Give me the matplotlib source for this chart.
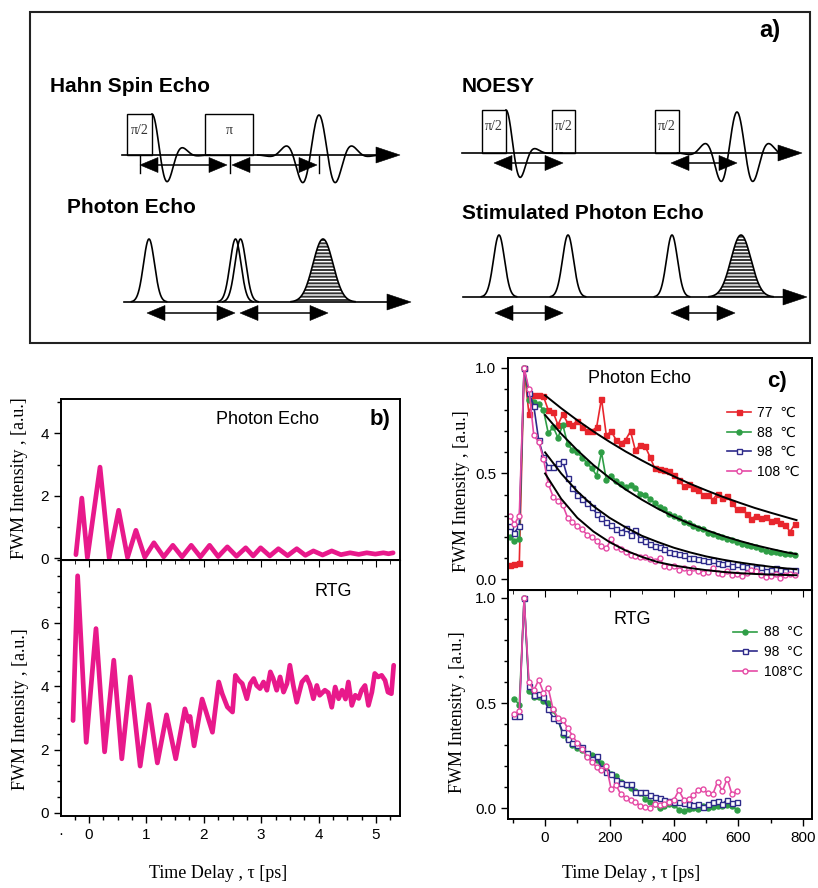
import numpy as np
import matplotlib
matplotlib.use('Agg')
import matplotlib.pyplot as plt
from matplotlib.patches import Rectangle, Polygon
from matplotlib.ticker import MultipleLocator, FormatStrFormatter

W, H = 818, 888
SANS = ['Liberation Sans', 'DejaVu Sans']
SERIF = ['Liberation Serif', 'DejaVu Serif']
plt.rcParams['font.family'] = SANS
plt.rcParams['hatch.linewidth'] = 1.0

# ---------------- panel b data (time delay in ps) ----------------
pe_t = [-0.23, -0.127, -0.03, 0.19, 0.35, 0.515, 0.67, 0.816, 0.97, 1.13,
        1.30, 1.46, 1.62, 1.78, 1.94, 2.10, 2.25, 2.41, 2.57, 2.73,
        2.86, 2.99, 3.15, 3.30, 3.46, 3.62, 3.77, 3.91, 4.07, 4.23,
        4.39, 4.55, 4.70, 4.84, 4.99, 5.13, 5.22, 5.30]
pe_val = [0.12, 1.93, 0.02, 2.92, 0.02, 1.54, 0.03, 0.90, 0.04, 0.50,
          0.05, 0.42, 0.05, 0.42, 0.05, 0.42, 0.06, 0.37, 0.07, 0.34,
          0.08, 0.34, 0.08, 0.31, 0.09, 0.31, 0.10, 0.24, 0.11, 0.24,
          0.12, 0.18, 0.13, 0.18, 0.14, 0.18, 0.15, 0.18]

rtg_t = [-0.28, -0.20, -0.05, 0.12, 0.27, 0.43, 0.57, 0.72, 0.89, 1.04,
         1.19, 1.35, 1.51, 1.67, 1.73, 1.76, 1.83, 1.97, 2.15, 2.26,
         2.32, 2.41, 2.50, 2.55, 2.61, 2.67, 2.75, 2.81, 2.87, 2.92,
         2.98, 3.04, 3.10, 3.16, 3.21, 3.27, 3.33, 3.39, 3.45, 3.50,
         3.56, 3.62, 3.71, 3.79, 3.85, 3.91, 3.97, 4.02, 4.11, 4.17,
         4.23, 4.29, 4.35, 4.41, 4.47, 4.52, 4.58, 4.64, 4.70, 4.75,
         4.81, 4.87, 4.93, 4.98, 5.04, 5.10, 5.16, 5.21, 5.27, 5.31]
rtg_val = [2.92, 7.50, 2.23, 5.83, 1.93, 4.83, 1.71, 4.30, 1.48, 3.43,
           1.58, 3.10, 1.71, 3.29, 2.90, 3.05, 2.12, 3.60, 2.55, 4.14,
           3.77, 3.35, 3.19, 4.35, 4.19, 4.09, 3.61, 4.09, 4.25, 4.03,
           3.93, 4.14, 3.88, 4.46, 4.25, 3.88, 4.30, 3.82, 4.09, 4.67,
           4.03, 3.50, 4.14, 4.30, 4.05, 3.61, 4.03, 3.72, 3.88, 3.80,
           3.34, 3.98, 3.61, 3.88, 3.60, 4.14, 3.40, 3.72, 3.62, 3.88,
           4.03, 3.40, 3.82, 4.41, 4.30, 4.35, 4.19, 3.82, 3.77, 4.67]

# ---------------- panel c data (ps) ----------------
pe_delay = np.arange(-110, 776, 15)
pe_77 = [0.065, 0.07, 0.075, 1.0, 0.78, 0.87, 0.87, 0.865, 0.80, 0.79,
         0.73, 0.78, 0.74, 0.73, 0.75, 0.72, 0.70, 0.70, 0.72, 0.855,
         0.68, 0.70, 0.66, 0.645, 0.66, 0.70, 0.61, 0.635, 0.63, 0.58,
         0.525, 0.52, 0.515, 0.51, 0.495, 0.47, 0.44, 0.45, 0.43, 0.42,
         0.40, 0.40, 0.375, 0.405, 0.385, 0.395, 0.36, 0.33, 0.33, 0.31,
         0.285, 0.30, 0.29, 0.295, 0.275, 0.28, 0.265, 0.255, 0.225, 0.26]
pe_88 = [0.20, 0.18, 0.19, 1.0, 0.85, 0.84, 0.83, 0.80, 0.69, 0.72,
         0.67, 0.73, 0.64, 0.61, 0.60, 0.575, 0.55, 0.525, 0.49, 0.60,
         0.47, 0.49, 0.465, 0.45, 0.435, 0.445, 0.43, 0.405, 0.40, 0.38,
         0.36, 0.34, 0.33, 0.31, 0.30, 0.29, 0.27, 0.265, 0.25, 0.24,
         0.235, 0.22, 0.215, 0.205, 0.20, 0.19, 0.185, 0.175, 0.165, 0.16,
         0.155, 0.15, 0.14, 0.135, 0.13, 0.13, 0.125, 0.12, 0.12, 0.115]
pe_98 = [0.25, 0.22, 0.25, 1.0, 0.88, 0.82, 0.66, 0.58, 0.53, 0.53,
         0.55, 0.56, 0.48, 0.43, 0.40, 0.38, 0.36, 0.34, 0.31, 0.29,
         0.27, 0.255, 0.235, 0.225, 0.24, 0.21, 0.23, 0.19, 0.18, 0.165,
         0.155, 0.15, 0.14, 0.13, 0.125, 0.12, 0.115, 0.10, 0.10, 0.095,
         0.09, 0.085, 0.09, 0.075, 0.07, 0.075, 0.06, 0.07, 0.06, 0.055,
         0.06, 0.05, 0.055, 0.04, 0.045, 0.05, 0.045, 0.04, 0.045, 0.045]
pe_108 = [0.30, 0.26, 0.30, 1.0, 0.90, 0.68, 0.65, 0.57, 0.45, 0.39,
          0.37, 0.35, 0.29, 0.27, 0.25, 0.235, 0.21, 0.20, 0.18, 0.155,
          0.145, 0.19, 0.15, 0.14, 0.13, 0.115, 0.11, 0.105, 0.105, 0.095,
          0.085, 0.10, 0.06, 0.055, 0.06, 0.045, 0.05, 0.035, 0.05, 0.04,
          0.03, 0.035, 0.05, 0.03, 0.025, 0.04, 0.02, 0.025, 0.015, 0.03,
          0.045, 0.04, 0.02, 0.01, 0.015, 0.025, 0.005, 0.02, 0.025, 0.02]

fit_t = [0, 50, 100, 150, 200, 250, 300, 350, 400, 450, 500, 550, 600, 650, 700, 750, 780]
fit_77 = [0.870, 0.809, 0.752, 0.699, 0.650, 0.604, 0.562, 0.522, 0.486, 0.451,
          0.420, 0.390, 0.363, 0.337, 0.314, 0.292, 0.279]
fit_88 = [0.777, 0.688, 0.610, 0.540, 0.479, 0.424, 0.376, 0.333, 0.295, 0.261,
          0.232, 0.205, 0.182, 0.161, 0.143, 0.126, 0.118]
fit_98 = [0.60, 0.50, 0.415, 0.345, 0.29, 0.245, 0.205, 0.175, 0.148, 0.126,
          0.107, 0.092, 0.079, 0.068, 0.058, 0.050, 0.046]
fit_108 = [0.50, 0.38, 0.29, 0.225, 0.175, 0.135, 0.105, 0.08, 0.064, 0.052,
           0.042, 0.034, 0.028, 0.024, 0.021, 0.019, 0.018]

rtg_delay = np.arange(-95, 596, 15)
rtg_88 = [0.52, 0.49, 1.0, 0.555, 0.53, 0.53, 0.51, 0.50, 0.465, 0.42,
          0.35, 0.33, 0.30, 0.285, 0.275, 0.25, 0.255, 0.23, 0.215, 0.18,
          0.16, 0.155, 0.125, 0.11, 0.095, 0.08, 0.07, 0.045, 0.03, 0.02,
          0.0, 0.01, 0.02, 0.015, -0.008, -0.015, -0.005, 0.0, -0.005, 0.01,
          0.0, 0.005, 0.008, 0.012, 0.015, 0.01, -0.008]
rtg_98 = [0.44, 0.44, 1.0, 0.58, 0.54, 0.545, 0.53, 0.47, 0.43, 0.42,
          0.36, 0.33, 0.31, 0.30, 0.29, 0.26, 0.235, 0.25, 0.19, 0.17,
          0.16, 0.135, 0.12, 0.115, 0.115, 0.075, 0.078, 0.075, 0.06, 0.055,
          0.047, 0.04, 0.035, 0.03, 0.03, 0.025, 0.02, 0.015, 0.02, 0.005,
          0.02, 0.03, 0.035, 0.02, 0.04, 0.025, 0.03]
rtg_108 = [0.45, 0.46, 1.0, 0.60, 0.56, 0.61, 0.55, 0.57, 0.47, 0.43,
           0.42, 0.38, 0.345, 0.31, 0.28, 0.245, 0.22, 0.195, 0.18, 0.20,
           0.09, 0.11, 0.065, 0.05, 0.04, 0.03, 0.01, 0.005, 0.0, 0.02,
           0.015, 0.02, 0.03, 0.04, 0.085, 0.04, 0.045, 0.06, 0.085, 0.09,
           0.07, 0.065, 0.125, 0.08, 0.14, 0.065, 0.08]

PINK_B = '#e8198b'
RED, GREEN, BLUE, PINK = '#e8262d', '#2f9e46', '#2e2a8a', '#e54aa5'

fig = plt.figure(figsize=(W / 100, H / 100), dpi=100)


def px_axes(left, top, right, bottom):
    return fig.add_axes([left / W, 1 - bottom / H, (right - left) / W, (bottom - top) / H])


def ftext(x, y, s, **kw):
    fig.text(x / W, 1 - y / H, s, **kw)


# ---------------- panel a: pulse sequences (drawn in pixel space) ----------------
ov = fig.add_axes([0, 0, 1, 1])
ov.set_xlim(0, W)
ov.set_ylim(H, 0)
ov.axis('off')
ov.add_patch(Rectangle((30, 12), 780, 331, fill=False, lw=1.5, ec='#222222'))


def head(x_tip, y, d, length=18, half=7.5):
    xb = x_tip - d * length
    ov.add_patch(Polygon([[x_tip, y], [xb, y - half], [xb, y + half]], closed=True, fc='k', ec='k', lw=0.4))


def double_arrow(x1, x2, y):
    ov.plot([x1 + 5, x2 - 5], [y, y], 'k', lw=1.1)
    head(x1, y, -1)
    head(x2, y, 1)


def time_axis(x1, x2, y):
    ov.plot([x1, x2 - 10], [y, y], 'k', lw=1.2)
    head(x2, y, 1, length=24, half=8)


def rf_box(x1, x2, top, base, label):
    ov.add_patch(Rectangle((x1, top), x2 - x1, base - top, fill=False, lw=1.0, ec='k'))
    ov.text((x1 + x2) / 2, top + 16, label, ha='center', va='center', family=SERIF, size=10, color='#333333')


def fid(x0, base, amp, period, width):
    xs = np.linspace(x0, x0 + 1.75 * period, 150)
    u = xs - x0
    ov.plot(xs, base - amp * np.cos(2 * np.pi * u / period) * np.exp(-(u / width) ** 2), 'k', lw=1.2)


def spin_echo(xc, base, amp, period, width):
    xs = np.linspace(xc - 1.75 * period, xc + 1.75 * period, 250)
    u = xs - xc
    ov.plot(xs, base - amp * np.cos(2 * np.pi * u / period) * np.exp(-(u / width) ** 2), 'k', lw=1.2)


def light_pulse(xc, base, amp, sig, filled=False):
    xs = np.linspace(xc - 3.2 * sig, xc + 3.2 * sig, 150)
    ys = base - amp * np.exp(-0.5 * ((xs - xc) / sig) ** 2)
    if filled:
        ov.fill_between(xs, ys, base, facecolor='#333333', edgecolor='white', hatch='-----', lw=0)
    ov.plot(xs, ys, 'k', lw=1.2)


title_kw = dict(fontsize=15, fontweight='bold', ha='left', va='center')
ov.text(50, 86, 'Hahn Spin Echo', **title_kw)
ov.text(67, 207, 'Photon Echo', **title_kw)
ov.text(462, 86, 'NOESY', **title_kw)
ov.text(462, 213, 'Stimulated Photon Echo', **title_kw)
ov.text(770, 31, 'a)', fontsize=17, fontweight='bold', ha='center', va='center')

# Hahn spin echo
time_axis(122, 400, 155)
rf_box(127, 152, 114, 155, 'π/2')
rf_box(205, 253, 114, 155, 'π')
fid(152, 155, 41, 33, 24)
spin_echo(319, 155, 40, 35, 27.6)
for xm in [140, 230, 319]:
    ov.plot([xm, xm], [156, 173], 'k', lw=1.0)
double_arrow(140, 227, 165)
double_arrow(232, 317, 165)

# Photon echo
time_axis(124, 411, 302)
light_pulse(149, 302, 63, 5.5)
light_pulse(235.5, 302, 63, 5.5)
light_pulse(240.5, 302, 63, 5.5)
light_pulse(323, 302, 63, 10, filled=True)
double_arrow(147, 235, 313)
double_arrow(240, 328, 313)

# NOESY
time_axis(462, 802, 153)
rf_box(482, 506, 110, 153, 'π/2')
rf_box(552, 575, 110, 153, 'π/2')
rf_box(655, 679, 110, 153, 'π/2')
fid(506, 153, 43, 32, 20)
spin_echo(737, 153, 41, 34, 27)
double_arrow(494, 563, 163)
double_arrow(671, 737, 163)

# Stimulated photon echo
time_axis(463, 807, 297)
for xc in [499, 568, 672]:
    light_pulse(xc, 297, 62, 5.5)
light_pulse(741, 297, 62, 10, filled=True)
double_arrow(495, 563, 313)
double_arrow(671, 735, 313)

# ---------------- panel b ----------------
ax_bt = px_axes(61, 399, 400, 560)
ax_bb = px_axes(61, 560, 400, 816)

ax_bt.plot(pe_t, pe_val, color=PINK_B, lw=3.4, solid_joinstyle='round', solid_capstyle='round')
ax_bt.set_xlim(-0.49, 5.42)
ax_bt.set_ylim(-0.05, 5.1)
ax_bt.set_yticks([0, 2, 4])
ax_bt.yaxis.set_minor_locator(MultipleLocator(1))
ax_bt.tick_params(axis='x', which='both', bottom=False, labelbottom=False)

ax_bb.plot(rtg_t, rtg_val, color=PINK_B, lw=3.4, solid_joinstyle='round', solid_capstyle='round')
ax_bb.set_xlim(-0.49, 5.42)
ax_bb.set_ylim(-0.1, 8.0)
ax_bb.set_yticks([0, 2, 4, 6])
ax_bb.yaxis.set_minor_locator(MultipleLocator(0.5))
ax_bb.set_xticks([0, 1, 2, 3, 4, 5])
ax_bb.xaxis.set_minor_locator(MultipleLocator(0.25))
sec = ax_bb.secondary_xaxis('top')
sec.set_xticks([0, 1, 2, 3, 4, 5])
sec.xaxis.set_minor_locator(MultipleLocator(0.25))
sec.tick_params(which='both', direction='in', labeltop=False)
sec.tick_params(which='major', length=5)
sec.tick_params(which='minor', length=3)

for ax in (ax_bt, ax_bb):
    ax.tick_params(which='both', direction='out', labelsize=11, width=1.0)
    ax.tick_params(which='major', length=5)
    ax.tick_params(which='minor', length=3)
    for s in ax.spines.values():
        s.set_linewidth(1.4)

ftext(267, 419, 'Photon Echo', ha='center', va='center', fontsize=13)
ftext(380, 419, 'b)', ha='center', va='center', fontsize=16, fontweight='bold')
ftext(333, 592, 'RTG', ha='center', va='center', fontsize=13)
ftext(61, 834, '·', ha='center', va='center', fontsize=11)

# ---------------- panel c ----------------
ax_ct = px_axes(508, 358, 812, 590)
ax_cb = px_axes(508, 590, 812, 819)

mk = dict(lw=1.2, ms=3.6, mew=1.0)
ax_ct.plot(pe_delay, pe_77, color=RED, marker='s', label='77  \u2103', **mk)
ax_ct.plot(pe_delay, pe_88, color=GREEN, marker='o', label='88  \u2103', **mk)
ax_ct.plot(pe_delay, pe_98, color=BLUE, marker='s', mfc='white', label='98  \u2103', **mk)
ax_ct.plot(pe_delay, pe_108, color=PINK, marker='o', mfc='white', label='108 \u2103', **mk)
for fv in (fit_77, fit_88, fit_98, fit_108):
    ax_ct.plot(fit_t, fv, color='black', lw=1.4, zorder=5)
ax_ct.set_xlim(-115, 828)
ax_ct.set_ylim(-0.052, 1.047)
ax_ct.tick_params(axis='x', which='both', bottom=False, labelbottom=False)
ax_ct.legend(loc='upper left', bbox_to_anchor=(0.72, 0.795), frameon=False, fontsize=10,
             handlelength=1.75, handletextpad=0.45, labelspacing=0.42, borderpad=0,
             borderaxespad=0, numpoints=1)

ax_cb.plot(rtg_delay, rtg_88, color=GREEN, marker='o', label='88  °C', **mk)
ax_cb.plot(rtg_delay, rtg_98, color=BLUE, marker='s', mfc='white', label='98  °C', **mk)
ax_cb.plot(rtg_delay, rtg_108, color=PINK, marker='o', mfc='white', label='108°C', **mk)
ax_cb.set_xlim(-115, 828)
ax_cb.set_ylim(-0.052, 1.038)
ax_cb.set_xticks([0, 200, 400, 600, 800])
ax_cb.xaxis.set_minor_locator(MultipleLocator(100))
sec_c = ax_cb.secondary_xaxis('top')
sec_c.set_xticks([0, 200, 400, 600, 800])
sec_c.xaxis.set_minor_locator(MultipleLocator(100))
sec_c.tick_params(which='both', direction='in', labeltop=False)
sec_c.tick_params(which='major', length=5)
sec_c.tick_params(which='minor', length=3)
ax_cb.legend(loc='upper left', bbox_to_anchor=(0.74, 0.845), frameon=False, fontsize=10,
             handlelength=1.75, handletextpad=0.45, labelspacing=0.42, borderpad=0,
             borderaxespad=0, numpoints=1)

for ax in (ax_ct, ax_cb):
    ax.set_yticks([0.0, 0.5, 1.0])
    ax.yaxis.set_major_formatter(FormatStrFormatter('%.1f'))
    ax.yaxis.set_minor_locator(MultipleLocator(0.1))
    ax.tick_params(which='both', direction='out', labelsize=11, width=1.0)
    ax.tick_params(which='major', length=5)
    ax.tick_params(which='minor', length=3)
    for s in ax.spines.values():
        s.set_linewidth(1.4)

ftext(640, 378, 'Photon Echo', ha='center', va='center', fontsize=13)
ftext(777, 381, 'c)', ha='center', va='center', fontsize=16, fontweight='bold')
ftext(632, 619, 'RTG', ha='center', va='center', fontsize=13)

# ---------------- axis titles ----------------
lab = dict(family=SERIF, fontsize=13, ha='center', va='center')
ftext(20, 478, 'FWM Intensity , [a.u.]', rotation=90, **lab)
ftext(21, 709, 'FWM Intensity , [a.u.]', rotation=90, **lab)
ftext(462, 491, 'FWM Intensity , [a.u.]', rotation=90, **lab)
ftext(458, 712, 'FWM Intensity , [a.u.]', rotation=90, **lab)
ftext(218, 873, 'Time Delay , τ [ps]', **lab)
ftext(631, 873, 'Time Delay , τ [ps]', **lab)

fig.savefig('out.png', dpi=100)
